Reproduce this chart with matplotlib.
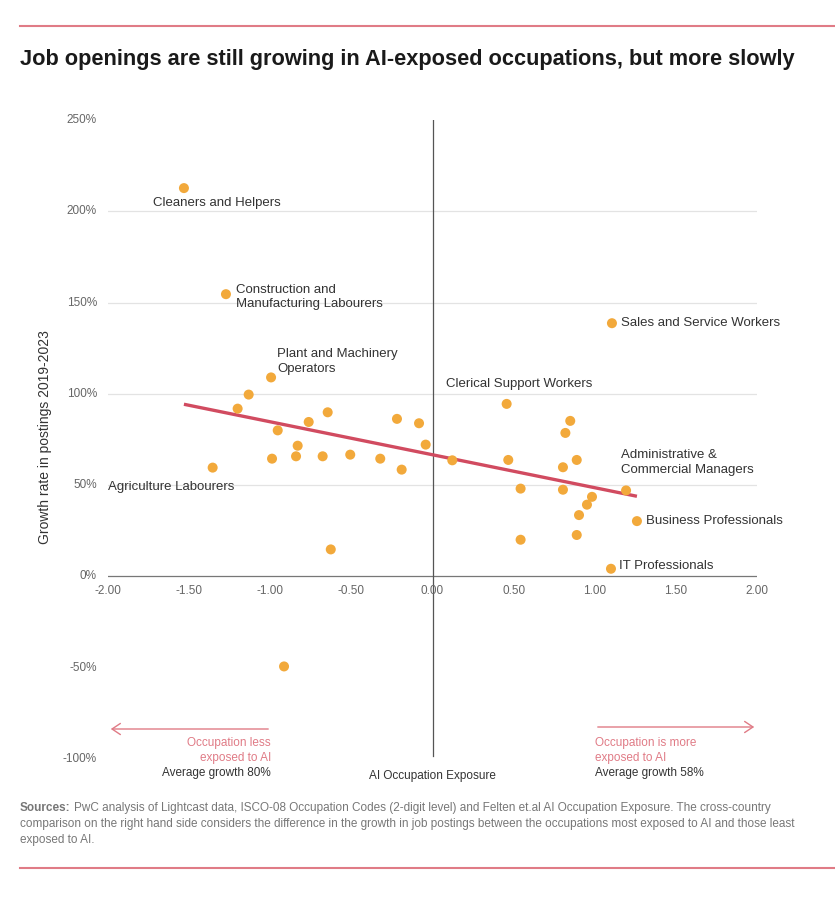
import matplotlib
matplotlib.use("Agg")
import matplotlib.pyplot as plt
import numpy as np

plt.rcParams['font.family'] = ['Liberation Sans', 'DejaVu Sans']

# Data: AI occupation exposure (x) vs growth rate in postings 2019-2023 (%)
exposure = [-1.532, -1.273, -0.995, 1.106, 0.457, 1.193, 1.260, 1.100, -1.355, -0.915,
            -0.627, -1.133, -1.201, -0.954, -0.763, -0.646, -0.831, -0.989, -0.841, -0.677,
            -0.507, -0.322, -0.190, -0.219, -0.083, -0.042, 0.122, 0.849, 0.819, 0.467,
            0.889, 0.804, 0.543, 0.804, 0.983, 0.952, 0.903, 0.889, 0.543]
growth = [212.7, 154.6, 109.0, 138.7, 94.5, 47.1, 30.3, 4.2, 59.6, -49.3,
          14.8, 99.6, 91.9, 80.0, 84.6, 89.9, 71.6, 64.5, 65.8, 65.8,
          66.7, 64.5, 58.5, 86.3, 83.9, 72.2, 63.6, 85.2, 78.6, 63.8,
          63.8, 59.8, 48.1, 47.5, 43.6, 39.3, 33.6, 22.7, 20.1]

trend_x = [-1.532, 1.260]
trend_y = [94.3, 43.9]

labels = ["Cleaners and Helpers", "Construction and\nManufacturing Labourers",
          "Plant and Machinery\nOperators", "Sales and Service Workers",
          "Clerical Support Workers", "Administrative &\nCommercial Managers",
          "Business Professionals", "IT Professionals", "Agriculture Labourers"]
label_idx = [0, 1, 2, 3, 4, 5, 6, 7, 8]
label_offsets = [(-31, -15), (10, -3), (6, 16), (9, 0), (-61, 20), (-5, 28), (9, 0), (8, 3), (-105, -19)]

xticks = [-2.0, -1.5, -1.0, -0.5, 0.0, 0.5, 1.0, 1.5, 2.0]
yticks = [-100, -50, 0, 50, 100, 150, 200, 250]
grid_y = [50, 100, 150, 200]

W, H = 835, 906
fig = plt.figure(figsize=(W / 100, H / 100), dpi=100)

def fx(px):
    return px / W

def fy(py):
    return 1 - py / H

PINK = '#e07b86'
ORANGE = '#f2a93b'
TREND = '#d14b60'
GREY = '#666666'

ax_l, ax_r, ax_t, ax_b = 108, 757, 120, 759
ax = fig.add_axes([fx(ax_l), fy(ax_b), fx(ax_r - ax_l), (ax_b - ax_t) / H])
ax.set_xlim(-2, 2)
ax.set_ylim(-100, 250)
for s in ax.spines.values():
    s.set_visible(False)
ax.set_xticks([])
ax.set_yticks([])
ax.patch.set_alpha(0)

for g in grid_y:
    ax.axhline(g, color='#e3e3e3', lw=0.9, zorder=0)
ax.axhline(0, color='#777777', lw=0.9, zorder=1)
ax.axvline(0, ymin=0.005, ymax=1.0, color='#555555', lw=0.9, zorder=1)

ax.plot(trend_x, trend_y, color=TREND, lw=2.4, zorder=3, solid_capstyle='butt')
ax.scatter(exposure, growth, s=52, color=ORANGE, edgecolors='none', zorder=4)

for i, lab in enumerate(labels):
    k = label_idx[i]
    dx, dy = label_offsets[i]
    ax.annotate(lab, xy=(exposure[k], growth[k]), xytext=(dx, dy), textcoords='offset pixels',
                ha='left', va='center', fontsize=9.5, color='#333333', linespacing=1.25, zorder=5)

# tick labels
for t in xticks:
    ax.annotate(f"{t:.2f}", xy=(t, 0), xytext=(0, -15), textcoords='offset pixels',
                ha='center', va='center', fontsize=8.5, color=GREY)
for t in yticks:
    ax.annotate(f"{t}%", xy=(-2, t), xytext=(-11, 0), textcoords='offset pixels',
                ha='right', va='center', fontsize=8.5, color=GREY)

fig.text(fx(45), fy(437), "Growth rate in postings 2019-2023", rotation=90,
         ha='center', va='center', fontsize=10, color='#333333')

# top / bottom rules
fig.add_artist(plt.Line2D([fx(20), fx(835)], [fy(26), fy(26)], color=PINK, lw=1.5))
fig.add_artist(plt.Line2D([fx(20), fx(835)], [fy(868), fy(868)], color=PINK, lw=1.5))

fig.text(fx(20), fy(60), "Job openings are still growing in AI-exposed occupations, but more slowly",
         ha='left', va='center', fontsize=15.7, fontweight='bold', color='#1a1a1a')

# arrows
fig.add_artist(matplotlib.patches.FancyArrowPatch((fx(271), fy(729)), (fx(108), fy(729)),
               transform=fig.transFigure, arrowstyle='->,head_length=6,head_width=4',
               color=PINK, lw=1.0, mutation_scale=1))
fig.add_artist(matplotlib.patches.FancyArrowPatch((fx(595), fy(727)), (fx(757), fy(727)),
               transform=fig.transFigure, arrowstyle='->,head_length=6,head_width=4',
               color=PINK, lw=1.0, mutation_scale=1))

fs_a = 8.5
fig.text(fx(271), fy(743), "Occupation less", ha='right', va='center', fontsize=fs_a, color=PINK)
fig.text(fx(271), fy(758), "exposed to AI", ha='right', va='center', fontsize=fs_a, color=PINK)
fig.text(fx(271), fy(773), "Average growth 80%", ha='right', va='center', fontsize=fs_a, color='#333333')
fig.text(fx(595), fy(743), "Occupation is more", ha='left', va='center', fontsize=fs_a, color=PINK)
fig.text(fx(595), fy(758), "exposed to AI", ha='left', va='center', fontsize=fs_a, color=PINK)
fig.text(fx(595), fy(773), "Average growth 58%", ha='left', va='center', fontsize=fs_a, color='#333333')
fig.text(fx(432), fy(776), "AI Occupation Exposure", ha='center', va='center', fontsize=8.5, color='#333333')

# sources
src_color = '#777777'
fs_s = 8.5
t1 = fig.text(fx(20), fy(808), "Sources:", ha='left', va='center', fontsize=fs_s, fontweight='bold', color=src_color)
fig.canvas.draw()
bb = t1.get_window_extent()
fig.text(bb.x1 / W + 3 / W, fy(808),
         "PwC analysis of Lightcast data, ISCO-08 Occupation Codes (2-digit level) and Felten et.al AI Occupation Exposure. The cross-country",
         ha='left', va='center', fontsize=fs_s, color=src_color)
fig.text(fx(20), fy(824),
         "comparison on the right hand side considers the difference in the growth in job postings between the occupations most exposed to AI and those least",
         ha='left', va='center', fontsize=fs_s, color=src_color)
fig.text(fx(20), fy(840), "exposed to AI.", ha='left', va='center', fontsize=fs_s, color=src_color)

fig.savefig("out.png", dpi=100, facecolor='white')
